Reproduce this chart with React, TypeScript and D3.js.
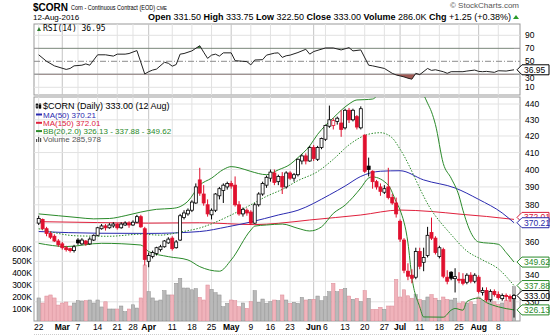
import React from "react";
import * as d3 from "d3";

// ---------- DATA ----------
// trading-day index 0 = 22 Feb 2016 ... 121 = 12 Aug 2016
const opens = [
  370, 372, 367, 364.5, 363, 360.5, 359, 357, 356.5, 355.5,
  361, 359, 360.5, 359, 361, 363.5, 367, 368.5, 367.5, 368.5,
  369.5, 367.5, 369, 370, 369, 370.5, 373.5, 367, 350, 352.5,
  354, 356, 357.5, 359.5, 362, 357, 361, 373, 375, 377,
  381, 394, 386, 380, 374.5, 377, 385, 388, 390, 392,
  391, 380, 375, 377, 376, 370, 380, 386, 391, 395,
  398, 393, 396, 390, 398, 395, 397, 405, 408, 405,
  413, 406, 413, 418, 426, 426.5, 429, 428, 425, 436,
  430, 432, 425, 420.5, 402, 399, 393, 390, 387, 390,
  384, 381, 371, 361, 345, 343, 342, 355, 349.5, 353,
  365, 362, 352.5, 356, 342, 344.5, 341.3, 341, 341, 339.5,
  343, 340, 342, 334.5, 335.5, 331, 335, 333.5, 331.5, 333,
  332.5, 331.5,
];
const highs = [
  374, 372.5, 368, 365.5, 364, 361.5, 360, 358, 357, 358.5,
  362, 362, 361, 362.5, 364, 368, 369.5, 369.5, 370, 370.5,
  370, 370.5, 371, 371, 371.5, 374.5, 374.5, 368, 354.5, 355.5,
  357.5, 358.5, 361, 362.5, 363, 361, 375, 377, 378, 382.5,
  392, 401, 391, 383, 378, 386.5, 390, 392, 393, 393.5,
  396, 382, 378.5, 378, 377, 381, 387, 393, 396.5, 400,
  400, 397, 398.5, 399, 399, 398, 406.5, 409, 409.5, 414,
  414.5, 414, 419, 427, 439, 431, 432, 436, 437, 437.5,
  437, 433, 438.5, 421, 407, 399.5, 394, 392, 391, 401,
  386, 384, 372, 362, 349, 346, 357, 357, 357, 368,
  373, 363, 358, 357, 345.5, 345, 346.5, 344.5, 344, 344,
  344.5, 344, 343, 337, 337, 336, 336, 335, 334, 334,
  333.5, 333.75,
];
const lows = [
  369, 366.5, 363, 361.5, 360, 357.5, 356, 355, 354.5, 354.5,
  358.5, 358.5, 358, 358.5, 360.5, 363, 366.5, 366, 367, 367.5,
  366.5, 367, 368.5, 367.5, 368.5, 370, 367.5, 348, 347, 351.5,
  353, 355, 357, 359, 355.5, 356.5, 360.5, 372, 374, 376,
  380.5, 385, 379.5, 373.5, 372, 376, 383, 381, 388.5, 389,
  379, 374, 373.5, 374, 369, 369.5, 379, 385, 389.5, 393,
  391, 391, 386, 389, 394, 393, 396, 403, 403, 404.5,
  405, 405, 412, 417, 425, 424, 427, 419.5, 424, 428,
  429, 424, 424, 398, 396, 389, 388.5, 385, 386, 383,
  380, 373, 360, 344, 340.5, 339, 341, 346, 345, 352,
  361, 353.5, 351.5, 341.5, 338.5, 340.5, 334.5, 339, 338, 338.5,
  339, 339, 334, 333, 330, 330, 332.5, 331, 330.5, 330.5,
  330, 322.5,
];
const closes = [
  372.5, 367, 364.5, 362.5, 360.5, 358.5, 357, 356, 355.5, 357.5,
  359.5, 361, 359, 361.5, 363.5, 367.5, 368.5, 367.5, 369, 369.5,
  367.5, 369.5, 370, 369, 370.5, 373.5, 368, 351, 353, 354.5,
  357, 357.5, 360.5, 361.5, 356.5, 360, 374, 375.5, 377, 381.5,
  390, 386.5, 381, 375, 377, 386, 389, 391, 392, 390.5,
  380, 375, 377.5, 375.5, 370, 380, 386, 392, 395.5, 398.5,
  392.5, 396, 390, 398, 395, 397, 406, 408, 405, 413,
  406.5, 413, 418.5, 426.5, 430, 429.5, 431, 424, 436, 430,
  436, 425.5, 437, 399, 400, 393, 390, 387.5, 389, 384,
  381, 375, 361.5, 345.5, 342.5, 341.5, 355, 347.5, 352, 363.5,
  362, 354.5, 357, 342.5, 340, 341.5, 342.3, 340.5, 339, 343,
  340, 343, 335, 335.5, 331, 335, 333.5, 332, 333, 332.5,
  331.75, 333,
];
// volume in thousands
const volumesK = [
  192, 150, 208, 217, 192, 133, 150, 158, 125, 150,
  170, 167, 170, 175, 150, 175, 117, 160, 100, 100,
  100, 125, 78, 100, 135, 108, 192, 467, 244, 192,
  167, 175, 253, 217, 217, 314, 356, 275, 275, 260,
  270, 197, 175, 300, 264, 236, 217, 119, 147, 175,
  170, 119, 150, 106, 161, 253, 156, 183, 147, 161,
  175, 169, 217, 175, 147, 156, 147, 197, 175, 181,
  181, 208, 169, 203, 244, 314, 244, 264, 272, 208,
  181, 189, 161, 253, 189, 97, 97, 114, 97, 125,
  125, 347, 200, 260, 210, 190, 220, 180, 170, 200,
  220, 190, 170, 200, 180, 175, 190, 150, 160, 150,
  160, 140, 200, 170, 180, 175, 160, 140, 150, 170,
  190, 286,
];

// indicator lines: [trading-day index, value]
const ma50Pts: [number, number][] = [
  [0, 365.5], [15, 364.6], [28, 364.5], [41, 365.5], [48, 368], [54, 370.6], [61, 374.4],
  [66, 377], [74, 385.5], [78, 390.5], [82, 396], [87, 399], [92, 399.3], [98, 394],
  [106, 389.4], [112, 383], [118, 375.5], [121, 370.21],
];
const ma150Pts: [number, number][] = [
  [0, 370.8], [15, 370.3], [28, 370], [41, 370.2], [55, 369.2], [61, 369.9], [69, 371.7],
  [82, 374.4], [92, 377.1], [100, 376.3], [107, 374.9], [114, 373.6], [121, 372.01],
];
const bbUpperPts: [number, number][] = [
  [0, 375], [5, 374], [10, 373], [14, 372.3], [18, 372.5], [22, 374], [26, 376], [30, 377.5],
  [34, 378], [36, 379], [38, 382], [41, 391], [44, 395], [47, 400], [49, 401.7], [51, 401],
  [54, 398.9], [58, 397], [61, 399.8], [64, 403], [66, 407], [69, 414], [71, 421], [73, 426.5],
  [75, 431.2], [77, 436], [79, 440], [81, 442.6], [83, 442.8], [85, 443.2], [87, 448], [90, 458],
  [93, 462], [96, 455], [98, 446], [99, 440.5], [100, 435], [101, 427], [103, 403.5], [105, 395],
  [107, 385], [108, 377], [110, 365], [112, 360], [117, 358.8], [119, 354.5], [121, 349.62],
];
const bbMidPts: [number, number][] = [
  [0, 367], [10, 363.2], [18, 363], [26, 364.1], [31, 363.6], [36, 365.2], [41, 367.4],
  [49, 374.4], [54, 380], [58, 384.7], [62, 388.6], [66, 393.6], [71, 398.8], [75, 406],
  [79, 414.6], [84, 421.1], [87, 422], [90, 418.8], [92, 412], [100, 377], [105, 363.9],
  [109, 355.3], [113, 350.7], [117, 346.2], [121, 337.88],
];
const bbLowerPts: [number, number][] = [
  [0, 359.3], [7, 357.6], [16, 359.3], [26, 358.4], [28, 355], [33, 352.4], [38, 350.7],
  [41, 347.3], [46, 345], [49, 350.7], [54, 366.3], [55, 368.4], [58, 369], [62, 369.5],
  [66, 367.2], [69, 365.8], [72, 368], [75, 375.3], [78, 379.8], [82, 389.4], [84, 395.1],
  [85, 395.7], [89, 391], [91, 381.7], [92, 377.1], [94, 359.5], [95, 342.1], [97, 327.6],
  [98, 322.8], [103, 322.7], [105, 326], [106, 326.8], [108, 326], [109, 330.1], [112, 331.8],
  [114, 329.6], [117, 327.6], [121, 326.13],
];
const rsiPts: [number, number][] = [
  [0, 60], [2, 50], [4, 43], [7, 37.5], [8, 39], [9, 43], [11, 44], [12, 46], [13, 44], [14, 52],
  [15, 60], [17, 60], [19, 58], [20, 61], [22, 61], [23, 62], [25, 66.5], [27, 30.5], [28, 34],
  [29, 36.5], [30, 38], [32, 48.5], [33, 47], [34, 42.5], [35, 45], [36, 61], [37, 62], [39, 66],
  [41, 74], [42, 64], [43, 54.5], [44, 59.5], [45, 61], [46, 58], [47, 63], [49, 63], [50, 51],
  [52, 50], [53, 49.5], [54, 44.5], [55, 52], [57, 52.5], [58, 59.5], [60, 62.5], [61, 63],
  [62, 56], [63, 58.5], [64, 59.5], [66, 63.5], [68, 68.5], [69, 61], [70, 65], [73, 70.5],
  [75, 70.5], [77, 67.5], [79, 71], [80, 66], [82, 67.5], [84, 44], [85, 43], [88, 39],
  [90, 31.5], [91, 29], [92, 27.5], [93, 26], [94, 24], [95, 22.5], [96, 31.5], [97, 29.5],
  [99, 39], [100, 36], [101, 37], [103, 34], [104, 31.5], [105, 34], [108, 34], [109, 35],
  [111, 36.5], [112, 34.5], [113, 34], [114, 34.5], [116, 33], [117, 35.5], [119, 35], [121, 36.95],
];

const tickIndex = [0, 6, 10, 15, 20, 24, 28, 34, 39, 44, 49, 54, 59, 64, 70, 73, 78, 83, 88, 92, 97, 102, 107, 112, 117];
const tickLabel = ["22", "Mar", "7", "14", "21", "28", "Apr", "11", "18", "25", "May", "9", "16", "23", "Jun", "6", "13", "20", "27", "Jul", "11", "18", "25", "Aug", "8"];
const monthLabels = ["Mar", "Apr", "May", "Jun", "Jul", "Aug"];
const priceTicks = [330, 340, 350, 360, 370, 380, 390, 400, 410, 420, 430, 440];
const volTicks = [100, 200, 300, 400, 500, 600];
const rsiTicks = [10, 30, 50, 70, 90];

// ---------- LAYOUT ----------
const W = 550, H = 336;
const plotL = 34, plotR = 520;
const rsiT = 24, rsiB = 95;
const mainT = 97, mainB = 321;
const FONT = "'Liberation Sans', Arial, sans-serif";

export default function App() {
  const n = closes.length;
  const x = d3.scaleLinear().domain([0, n - 1]).range([38.7, 514]);
  const y = d3.scaleLog().domain([321.37, 440]).range([320, 104]);
  const yv = d3.scaleLinear().domain([0, 600]).range([mainB, 249]);
  const yr = d3.scaleLinear().domain([0, 100]).range([93.8, 28.8]);

  const smooth = d3.line<[number, number]>().x(d => x(d[0])).y(d => y(d[1])).curve(d3.curveMonotoneX);
  const rsiLine = d3.line<[number, number]>().x(d => x(d[0])).y(d => yr(d[1]));
  const rsiAbove = d3.area<[number, number]>().x(d => x(d[0])).y0(yr(70)).y1(d => yr(d[1]));
  const rsiBelow = d3.area<[number, number]>().x(d => x(d[0])).y0(yr(30)).y1(d => yr(d[1]));

  const up = (i: number) => (i === 0 ? true : closes[i] >= closes[i - 1]);

  const labelBoxes = [
    { v: 372.01, color: "#d8203c", txt: "372.01", dy: -2 },
    { v: 370.21, color: "#2a2aa8", txt: "370.21", dy: 0 },
    { v: 349.62, color: "#2a8a2a", txt: "349.62", dy: 0 },
    { v: 337.88, color: "#2a8a2a", txt: "337.88", dy: 0 },
    { v: 326.13, color: "#2a8a2a", txt: "326.13", dy: 0 },
    { v: 333.0, color: "#000000", txt: "333.00", dy: 0 },
  ];
  const boxYs = labelBoxes.map(b => y(b.v));
  // tick labels fully hidden behind a value box are not drawn; 340 is nudged up as in the reference
  const hiddenTick = (v: number) => boxYs.some(by => Math.abs(by - y(v)) < 2.5);
  const tickNudge: Record<number, number> = { 340: -6 };

  const box = (yy: number, color: string, txt: string, key: string) => (
    <g key={key}>
      <polygon
        points={`${plotR - 3},${yy} ${plotR + 2},${yy - 5} ${W - 1},${yy - 5} ${W - 1},${yy + 5} ${plotR + 2},${yy + 5}`}
        fill="#fff" stroke={color} strokeWidth={1}
      />
      <text x={plotR + 4} y={yy + 3} fontSize={8.5} fill={color} fontFamily={FONT}>{txt}</text>
    </g>
  );

  return (
    <svg width={W} height={H} viewBox={`0 0 ${W} ${H}`} style={{ position: "absolute", left: 0, top: 0, background: "#fff" }}>
      <defs>
        <clipPath id="mainClip"><rect x={plotL} y={mainT} width={plotR - plotL} height={mainB - mainT} /></clipPath>
        <clipPath id="rsiClip"><rect x={plotL} y={rsiT} width={plotR - plotL} height={rsiB - rsiT} /></clipPath>
        <clipPath id="aboveClip"><rect x={plotL} y={rsiT} width={plotR - plotL} height={yr(70) - rsiT} /></clipPath>
        <clipPath id="belowClip"><rect x={plotL} y={yr(30)} width={plotR - plotL} height={rsiB - yr(30)} /></clipPath>
      </defs>

      {/* header */}
      <text x={33} y={10.5} fontFamily={FONT} fontSize={10} fontWeight="bold" fill="#000">$CORN</text>
      <text x={71} y={10} fontFamily={FONT} fontSize={7} fill="#000" textLength={96} lengthAdjust="spacingAndGlyphs">
        Corn - Continuous Contract (EOD) <tspan fontSize={6}>CME</tspan>
      </text>
      <text x={519} y={7.5} textAnchor="end" fontFamily={FONT} fontSize={8} fill="#555">© StockCharts.com</text>
      <text x={33} y={20} fontFamily={FONT} fontSize={8} fill="#000">12-Aug-2016</text>
      <text x={511} y={20} textAnchor="end" fontFamily={FONT} fontSize={9} fill="#000">
        <tspan fontWeight="bold">Open</tspan> 331.50 <tspan fontWeight="bold">High</tspan> 333.75 <tspan fontWeight="bold">Low</tspan> 322.50 <tspan fontWeight="bold">Close</tspan> 333.00 <tspan fontWeight="bold">Volume</tspan> 286.0K <tspan fontWeight="bold">Chg</tspan> +1.25 (+0.38%)
      </text>
      <path d="M513,19 L516,15 L519,19 Z" fill="#2a9a2a" />

      {/* ---------- RSI panel ---------- */}
      <rect x={plotL} y={rsiT} width={plotR - plotL} height={rsiB - rsiT} fill="#fff" stroke="#999" strokeWidth={1} />
      {tickIndex.map((ti, k) => (
        <line key={"rv" + k} x1={x(ti)} x2={x(ti)} y1={rsiT} y2={rsiB}
          stroke={monthLabels.includes(tickLabel[k]) ? "#c4c4c4" : "#e2e2e2"} strokeWidth={1} />
      ))}
      {[10, 90].map(v => (
        <line key={"rg" + v} x1={plotL} x2={plotR} y1={yr(v)} y2={yr(v)} stroke="#e2e2e2" />
      ))}
      <line x1={plotL} x2={plotR} y1={yr(70)} y2={yr(70)} stroke="#8c8c8c" strokeWidth={1} />
      <line x1={plotL} x2={plotR} y1={yr(30)} y2={yr(30)} stroke="#a0a0a0" strokeWidth={1.5} />
      <line x1={plotL} x2={plotR} y1={yr(50)} y2={yr(50)} stroke="#8c8c8c" strokeWidth={1} strokeDasharray="6,2,1,2" />
      <g clipPath="url(#aboveClip)"><path d={rsiAbove(rsiPts) || ""} fill="#3f7f3f" /></g>
      <g clipPath="url(#belowClip)"><path d={rsiBelow(rsiPts) || ""} fill="#a05a55" /></g>
      <g clipPath="url(#rsiClip)"><path d={rsiLine(rsiPts) || ""} fill="none" stroke="#222" strokeWidth={1} /></g>
      {rsiTicks.filter(v => v !== 30).map(v => (
        <text key={"rt" + v} x={plotR + 5} y={yr(v) + 3} fontSize={8.5} fontFamily={FONT} fill="#000">{v}</text>
      ))}
      <text x={plotR + 5} y={yr(30) + 7} fontSize={8.5} fontFamily={FONT} fill="#000">30</text>
      {box(yr(36.95), "#000", "36.95", "rsibox")}
      <path d="M37,31 L39,27 L41,31 Z" fill="#2a7a2a" />
      <text x={43} y={31} fontFamily="'DejaVu Sans Mono', monospace" fontSize={8} fill="#000">RSI(14) 36.95</text>

      {/* ---------- Main panel ---------- */}
      <rect x={plotL} y={mainT} width={plotR - plotL} height={mainB - mainT} fill="#fff" stroke="#999" strokeWidth={1} />
      {tickIndex.map((ti, k) => (
        <line key={"mv" + k} x1={x(ti)} x2={x(ti)} y1={mainT} y2={mainB}
          stroke={monthLabels.includes(tickLabel[k]) ? "#c4c4c4" : "#e2e2e2"} strokeWidth={1} />
      ))}
      {priceTicks.map(v => (
        <line key={"pg" + v} x1={plotL} x2={plotR} y1={y(v)} y2={y(v)} stroke="#e2e2e2" />
      ))}

      <g clipPath="url(#mainClip)">
        {/* volume */}
        {volumesK.map((v, i) => (
          <rect key={"v" + i} x={x(i) - 1.7} y={yv(v)} width={3.4} height={mainB - yv(v)}
            fill={up(i) ? "#b9b9b9" : "#f0b3bb"} stroke={up(i) ? "#8f8f8f" : "#dc8a96"} strokeWidth={0.5} />
        ))}
        {/* lines */}
        <path d={smooth(ma150Pts) || ""} fill="none" stroke="#e0203c" strokeWidth={1} />
        <path d={smooth(ma50Pts) || ""} fill="none" stroke="#2a2ab0" strokeWidth={1} />
        <path d={smooth(bbUpperPts) || ""} fill="none" stroke="#2a8a2a" strokeWidth={1} />
        <path d={smooth(bbLowerPts) || ""} fill="none" stroke="#2a8a2a" strokeWidth={1} />
        <path d={smooth(bbMidPts) || ""} fill="none" stroke="#2a8a2a" strokeWidth={1} strokeDasharray="1.5,1.5" />
        {/* candles */}
        {closes.map((c, i) => {
          const o = opens[i];
          const col = up(i) ? "#000" : "#e0102e";
          const filled = c < o;
          const top = y(Math.max(o, c));
          const bot = y(Math.min(o, c));
          return (
            <g key={"c" + i}>
              <line x1={x(i)} x2={x(i)} y1={y(highs[i])} y2={y(lows[i])} stroke={col} strokeWidth={1} />
              <rect x={x(i) - 1.5} y={top} width={3} height={Math.max(bot - top, 0.8)}
                fill={filled ? col : "#fff"} stroke={col} strokeWidth={0.8} />
            </g>
          );
        })}
      </g>

      {/* price axis labels */}
      {priceTicks.filter(v => !hiddenTick(v)).map(v => (
        <text key={"pt" + v} x={plotR + 5} y={y(v) + 3 + (tickNudge[v] || 0)} fontSize={8.5} fontFamily={FONT} fill="#000">{v}</text>
      ))}
      {labelBoxes.map((b, k) => box(y(b.v) + b.dy, b.color, b.txt, "lb" + k))}

      {/* volume axis labels */}
      {volTicks.map(v => (
        <text key={"vt" + v} x={plotL - 2} y={yv(v) + 3} textAnchor="end" fontSize={8.5} fontFamily={FONT} fill="#000">{v}K</text>
      ))}

      {/* legend */}
      <g fontFamily={FONT}>
        <text x={43} y={109} fill="#000" fontSize={9}>$CORN (Daily) 333.00 (12 Aug)</text>
        <line x1={36} x2={42} y1={114.5} y2={114.5} stroke="#2a2ab0" strokeWidth={2} />
        <text x={43} y={117.5} fill="#2a2ab0" fontSize={8}>MA(50) 370.21</text>
        <line x1={36} x2={42} y1={122.8} y2={122.8} stroke="#e0203c" strokeWidth={2} />
        <text x={43} y={125.8} fill="#e0203c" fontSize={8}>MA(150) 372.01</text>
        <line x1={36} x2={42} y1={131.1} y2={131.1} stroke="#2a8a2a" strokeWidth={2} />
        <text x={43} y={134.1} fill="#2a8a2a" fontSize={8}>BB(20,2.0) 326.13 - 337.88 - 349.62</text>
        <text x={43} y={142.4} fill="#555" fontSize={8}>Volume 285,978</text>
      </g>
      <g fill="#555">
        <rect x={36} y={139} width={1.2} height={3} />
        <rect x={38} y={137} width={1.2} height={5} />
        <rect x={40} y={138} width={1.2} height={4} />
      </g>
      <g stroke="#000" strokeWidth={0.8} fill="none">
        <line x1={37} x2={37} y1={103} y2={109} />
        <rect x={36.2} y={104.5} width={1.6} height={3} fill="#fff" />
        <line x1={40} x2={40} y1={103} y2={109} />
        <rect x={39.2} y={105} width={1.6} height={3} fill="#000" />
      </g>

      {/* x axis labels */}
      {tickIndex.map((ti, k) => {
        const lab = tickLabel[k];
        const isMonth = monthLabels.includes(lab);
        return (
          <text key={"xt" + k} x={x(ti)} y={330} textAnchor="middle" fontSize={8.5}
            fontWeight={isMonth ? "bold" : "normal"} fontFamily={FONT} fill="#000">{lab}</text>
        );
      })}
      <line x1={plotL} x2={plotR} y1={334.5} y2={334.5} stroke="#ccc" strokeDasharray="1,1" />
    </svg>
  );
}
